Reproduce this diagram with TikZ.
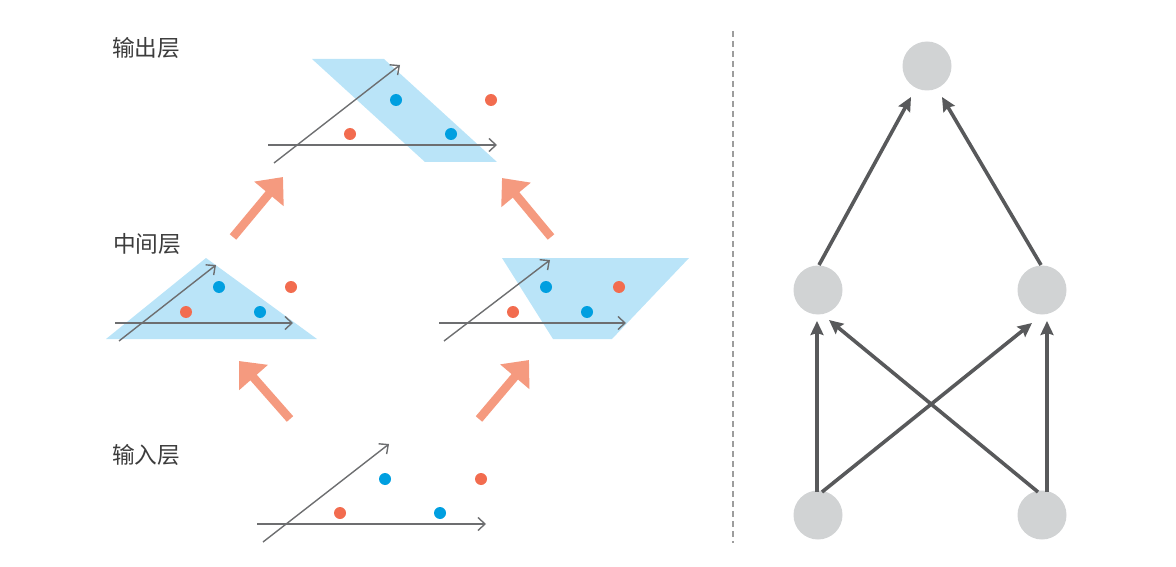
\documentclass[tikz,border=0pt]{standalone}
\usepackage{fontspec}
\newfontfamily\cjk{Noto Sans CJK SC}
\usetikzlibrary{arrows.meta,calc}
\definecolor{txt}{HTML}{3C3C3C}
\definecolor{plane}{HTML}{BAE4F8}
\definecolor{axis}{HTML}{6D6E70}
\definecolor{bdot}{HTML}{009FE0}
\definecolor{odot}{HTML}{F26C4F}
\definecolor{salmon}{HTML}{F59A7F}
\definecolor{neuron}{HTML}{D1D3D4}
\definecolor{conncol}{HTML}{58595B}
\definecolor{dashcol}{HTML}{9D9D9D}
\tikzset{
  lbl/.style={font=\cjk\fontsize{22.7}{24}\selectfont, text=txt, inner sep=0pt},
  ax/.style={draw=axis, line width=1.4pt, -{Straight Barb[length=7pt,width=13pt,line width=1.4pt]}},
  bd/.style={fill=bdot},
  od/.style={fill=odot},
  big/.style={draw=salmon, line width=8.5pt, -{Triangle[length=22pt,width=37pt]}},
  neur/.style={circle, fill=neuron, minimum size=49pt, inner sep=0pt},
  conn/.style={draw=conncol, line width=3.6pt, -{Stealth[length=14pt,width=13pt,inset=2pt]}},
}
\begin{document}
\begin{tikzpicture}[x=1pt,y=-1pt]
\useasboundingbox (0,0) rectangle (1176,567);
% labels
\node[lbl, anchor=west] (lout) at (112,48) {输出层};
\node[lbl, anchor=west] (lmid) at (113,244) {中间层};
\node[lbl, anchor=west] (lin) at (112,455) {输入层};

% output plot
\fill[plane] (312,59) -- (384,59) -- (497,162) -- (425,162) -- cycle;
\draw[ax] (268,145) -- (497,145);
\draw[ax] (274,163) -- (400,65);
\fill[bd] (396,100) circle (6);
\fill[bd] (451,134) circle (6);
\fill[od] (350,134) circle (6);
\fill[od] (491,100) circle (6);

% middle left plot
\fill[plane] (106,339) -- (206,258) -- (317,339) -- cycle;
\draw[ax] (115,323) -- (293,323);
\draw[ax] (119,341) -- (216,265);
\fill[bd] (219,287) circle (6);
\fill[bd] (260,312) circle (6);
\fill[od] (186,312) circle (6);
\fill[od] (291,287) circle (6);

% middle right plot
\fill[plane] (502,258) -- (689,258) -- (612,339) -- (553,339) -- cycle;
\draw[ax] (439,323) -- (626,323);
\draw[ax] (444,341) -- (550,260);
\fill[bd] (546,287) circle (6);
\fill[bd] (587,312) circle (6);
\fill[od] (513,312) circle (6);
\fill[od] (619,287) circle (6);

% input plot
\draw[ax] (257,524) -- (486,524);
\draw[ax] (263,542) -- (389,444);
\fill[bd] (385,479) circle (6);
\fill[bd] (440,513) circle (6);
\fill[od] (340,513) circle (6);
\fill[od] (481,479) circle (6);

% salmon arrows
\draw[big] (233,237) -- (283,177);
\draw[big] (551,237) -- (502,178);
\draw[big] (290,419) -- (239,361);
\draw[big] (479,419) -- (529,360);

% divider
\draw[dashcol, line width=2pt, dash pattern=on 6pt off 4pt] (733,31) -- (733,543);

% network
\node[neur] (top) at (927,66) {};
\node[neur] (ml) at (818,290) {};
\node[neur] (mr) at (1042,290) {};
\node[neur] (bl) at (818,515) {};
\node[neur] (br) at (1042,515) {};

\draw[conn] ($(ml)+(1,-25)$) -- ($(top)+(-16,31)$);
\draw[conn] ($(mr)+(-1,-25)$) -- ($(top)+(15,31)$);
\draw[conn] ($(bl)+(-1,-23)$) -- ($(ml)+(-1,31)$);
\draw[conn] ($(br)+(5,-23)$) -- ($(mr)+(5,31)$);
\draw[conn] ($(bl)+(4,-23)$) -- ($(mr)+(-10,33)$);
\draw[conn] ($(br)+(-4,-23)$) -- ($(ml)+(11,30)$);
\end{tikzpicture}
\end{document}
